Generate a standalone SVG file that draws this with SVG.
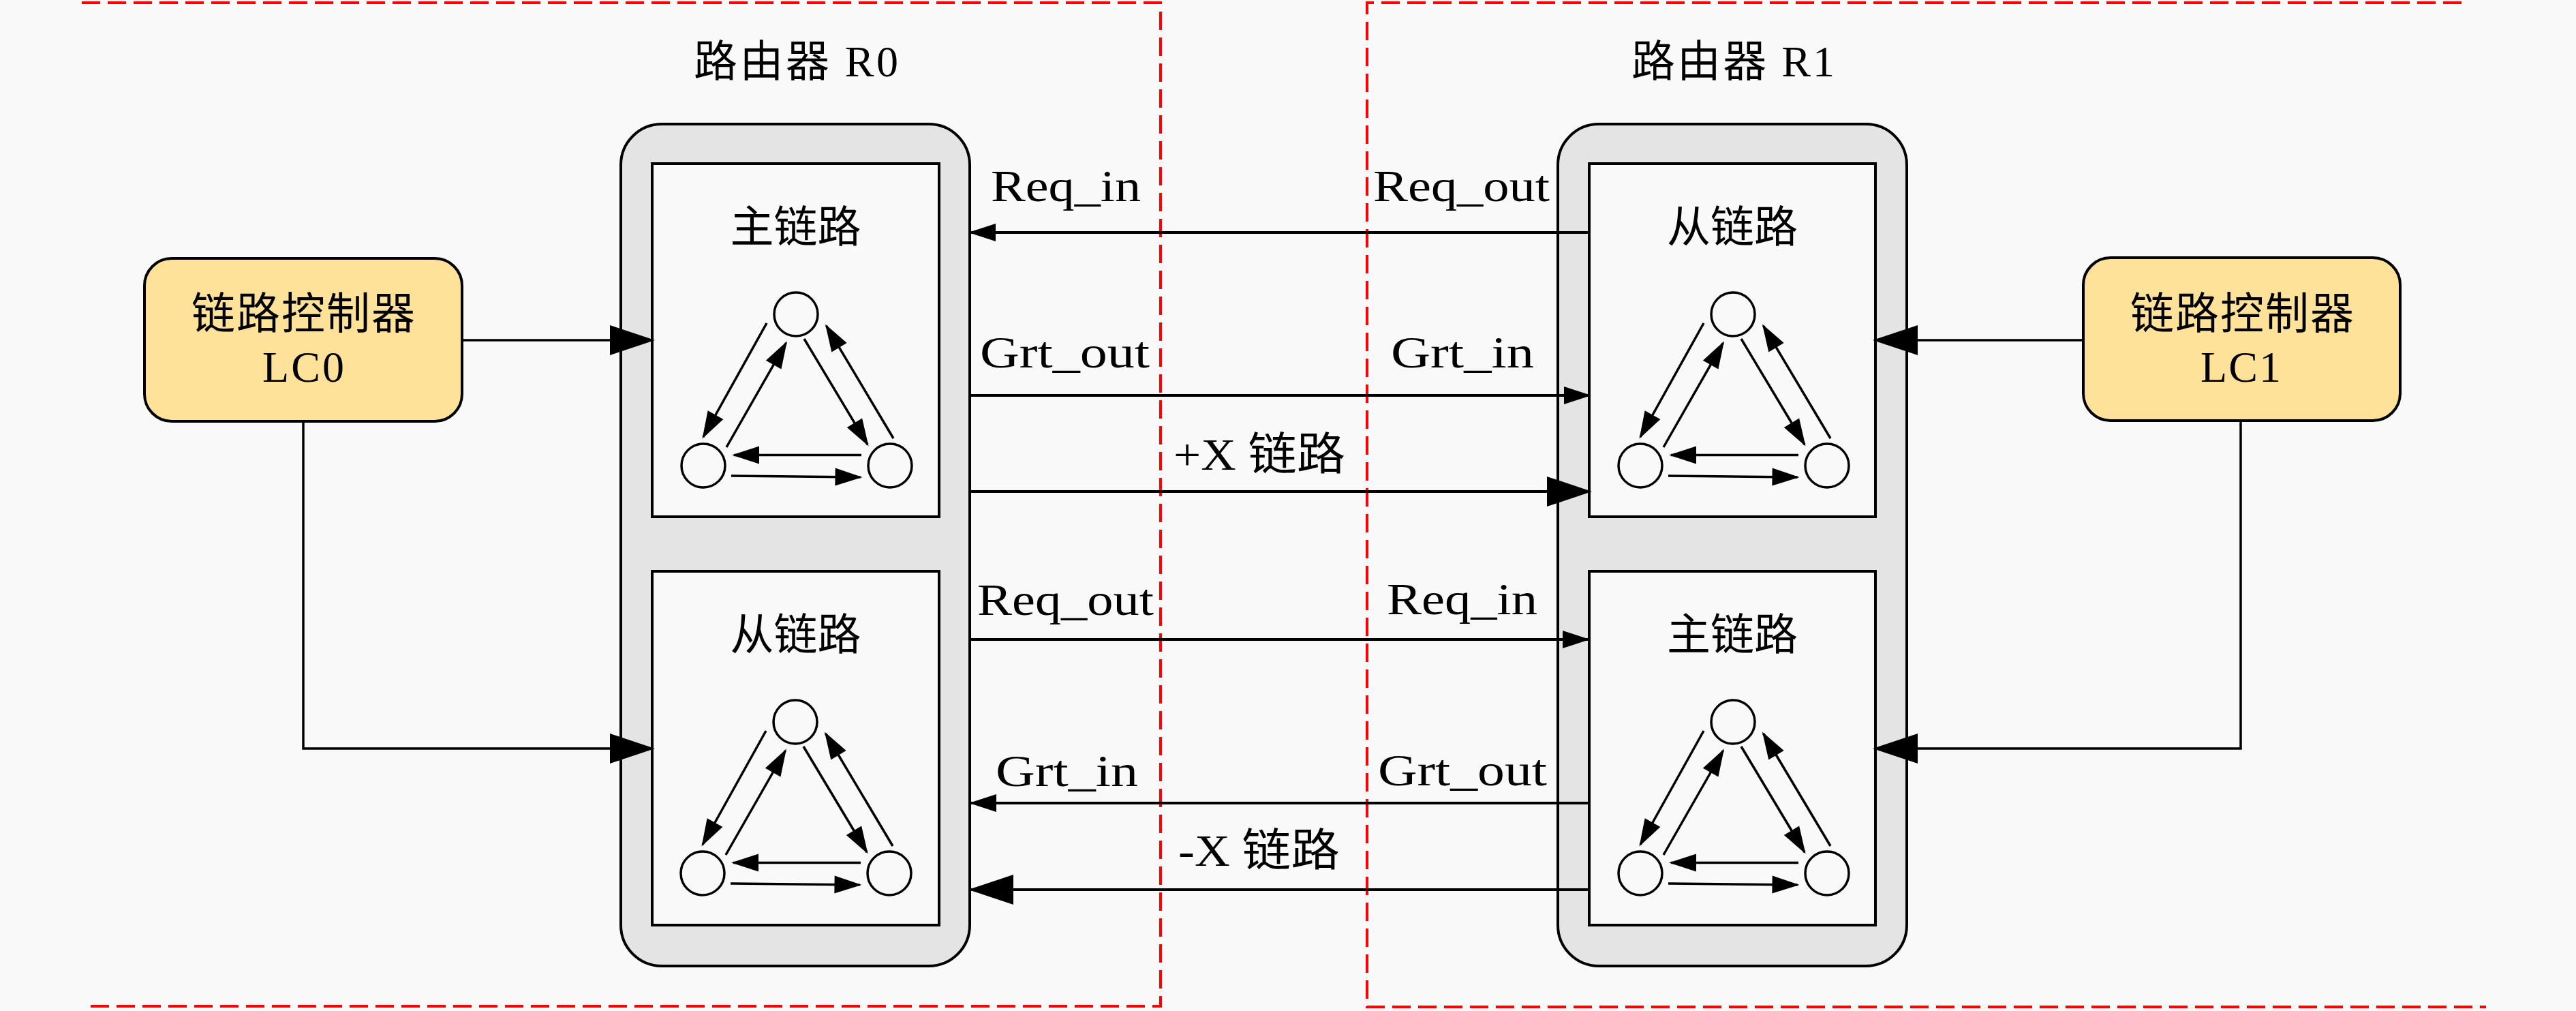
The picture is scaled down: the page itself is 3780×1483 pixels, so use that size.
<svg xmlns="http://www.w3.org/2000/svg" xmlns:xlink="http://www.w3.org/1999/xlink" width="3780" height="1483" viewBox="0 0 3780 1483">
<style>
.bg{fill:#F9F9F9}
.dash{fill:none;stroke:#FF0000;stroke-width:4;stroke-dasharray:27 11}
.outer{fill:#E4E4E4;stroke:#000;stroke-width:4}
.inner{fill:#F9F9F9;stroke:#000;stroke-width:4}
.lc{fill:#FFE29A;stroke:#000;stroke-width:4}
.cj{font-family:"Liberation Serif","Noto Sans CJK SC",serif;font-size:64px;fill:#000;text-anchor:middle}
.lbl{font-family:"Liberation Serif","Noto Sans CJK SC",serif;font-size:66px;fill:#000}
.ln{fill:none;stroke:#000;stroke-width:3.5}
.lk{fill:none;stroke:#000;stroke-width:4}
.sm{marker-end:url(#ah)}
.bg2{marker-end:url(#ahb)}
.circ{fill:#F9F9F9;stroke:#000;stroke-width:3.5}
</style>
<defs>
<marker id="ah" markerUnits="userSpaceOnUse" markerWidth="40" markerHeight="26" refX="37" refY="13" orient="auto" overflow="visible"><path d="M0,0 L40,13 L0,26 Z" fill="#000"/></marker>
<marker id="ahb" markerUnits="userSpaceOnUse" markerWidth="66" markerHeight="44" refX="62" refY="22" orient="auto" overflow="visible"><path d="M0,0 L66,22 L0,44 Z" fill="#000"/></marker>
<g id="tri">
<circle class="circ" cx="0" cy="0" r="32"/>
<circle class="circ" cx="-136" cy="222" r="32"/>
<circle class="circ" cx="138" cy="222" r="32"/>
<path class="ln sm" d="M-43,13 L-136,180"/>
<path class="ln sm" d="M-102,195 L-14.5,42"/>
<path class="ln sm" d="M12,36 L105,191"/>
<path class="ln sm" d="M143,182 L44.5,17"/>
<path class="ln sm" d="M96,206.5 L-91,206.5"/>
<path class="ln sm" d="M-95,237 L94.5,239"/>
</g>
</defs>
<rect class="bg" x="0" y="0" width="3780" height="1483"/>
<g id="regions">
<polyline class="dash" points="120,4 1703,4 1703,1476 123,1476"/>
<polyline class="dash" points="3612,4 2006,4 2006,1477 3648,1477"/>
</g>
<g id="router-r0">
<text class="cj" x="1168" y="112" textLength="300">路由器 R0</text>
<rect class="outer" x="911" y="182" width="512" height="1235" rx="60" ry="60"/>
<g id="r0-master">
<rect class="inner" x="957" y="240" width="421" height="518"/>
<text class="cj" x="1167.5" y="355">主链路</text>
<use xlink:href="#tri" x="1168" y="461"/>
</g>
<g id="r0-slave">
<rect class="inner" x="957" y="838" width="421" height="519"/>
<text class="cj" x="1167.5" y="953">从链路</text>
<use xlink:href="#tri" x="1167" y="1059"/>
</g>
</g>
<g id="router-r1">
<text class="cj" x="2543" y="112" textLength="298">路由器 R1</text>
<rect class="outer" x="2286" y="182" width="512" height="1235" rx="60" ry="60"/>
<g id="r1-slave">
<rect class="inner" x="2332" y="240" width="420" height="518"/>
<text class="cj" x="2542" y="355">从链路</text>
<use xlink:href="#tri" x="2543" y="461"/>
</g>
<g id="r1-master">
<rect class="inner" x="2332" y="838" width="420" height="519"/>
<text class="cj" x="2542" y="953">主链路</text>
<use xlink:href="#tri" x="2543" y="1059"/>
</g>
</g>
<g id="lc0">
<rect class="lc" x="212" y="379" width="466" height="239" rx="40" ry="40"/>
<text class="cj" x="445" y="482" textLength="328">链路控制器</text>
<text class="cj" x="445" y="560" font-size="66" textLength="120">LC0</text>
</g>
<g id="lc1">
<rect class="lc" x="3057" y="378" width="465" height="239" rx="40" ry="40"/>
<text class="cj" x="3290" y="482" textLength="328">链路控制器</text>
<text class="cj" x="3288" y="560" font-size="66" textLength="118">LC1</text>
</g>
<g id="connectors">
<path class="ln bg2" d="M678,499 H957"/>
<path class="ln bg2" d="M445,618 V1098 H957"/>
<path class="ln bg2" d="M3057,499 H2752"/>
<path class="ln bg2" d="M3288,617 V1098 H2752"/>
<path class="lk sm" d="M2332,341 H1424"/>
<path class="lk sm" d="M1423,580 H2332"/>
<path class="lk bg2" d="M1423,721 H2332"/>
<path class="lk sm" d="M1423,938 H2330"/>
<path class="lk sm" d="M2332,1178 H1425"/>
<path class="lk bg2" d="M2332,1305 H1425"/>
<text class="lbl" x="1454" y="295" textLength="220" lengthAdjust="spacingAndGlyphs">Req_in</text>
<text class="lbl" x="2015" y="295" textLength="259" lengthAdjust="spacingAndGlyphs">Req_out</text>
<text class="lbl" x="1438" y="539" textLength="249" lengthAdjust="spacingAndGlyphs">Grt_out</text>
<text class="lbl" x="2041" y="539" textLength="210" lengthAdjust="spacingAndGlyphs">Grt_in</text>
<text class="lbl" x="1722" y="689" textLength="252" lengthAdjust="spacingAndGlyphs">+X 链路</text>
<text class="lbl" x="1434" y="902" textLength="259" lengthAdjust="spacingAndGlyphs">Req_out</text>
<text class="lbl" x="2035" y="901" textLength="221" lengthAdjust="spacingAndGlyphs">Req_in</text>
<text class="lbl" x="1461" y="1153" textLength="209" lengthAdjust="spacingAndGlyphs">Grt_in</text>
<text class="lbl" x="2022" y="1152" textLength="248" lengthAdjust="spacingAndGlyphs">Grt_out</text>
<text class="lbl" x="1729" y="1270" textLength="237" lengthAdjust="spacingAndGlyphs">-X 链路</text>
</g>
</svg>
